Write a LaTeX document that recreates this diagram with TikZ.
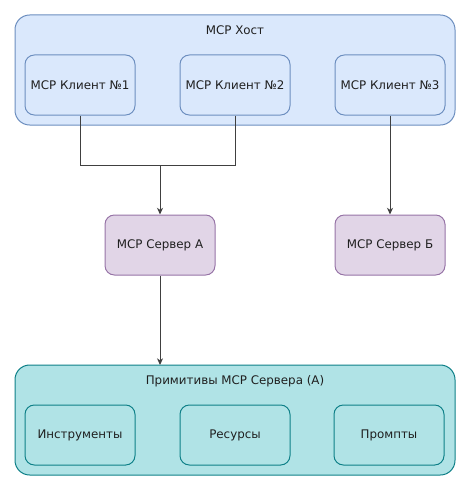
\documentclass[tikz,border=0pt]{standalone}
\usepackage{fontspec}
\setmainfont{DejaVu Sans}
\usetikzlibrary{arrows.meta}
\definecolor{hostfill}{HTML}{DAE8FC}
\definecolor{hostline}{HTML}{6C8EBF}
\definecolor{srvfill}{HTML}{E1D5E7}
\definecolor{srvline}{HTML}{9673A6}
\definecolor{primfill}{HTML}{B0E3E6}
\definecolor{primline}{HTML}{0E8088}
\begin{document}
\begin{tikzpicture}[x=0.75pt,y=-0.75pt,
  every node/.style={font=\fontsize{8.9pt}{10.5pt}\selectfont, text=black!88},
  bigbox/.style={draw, line width=0.75pt, rounded corners=11pt},
  smallbox/.style={draw, line width=0.75pt, rounded corners=7pt, minimum width=82.5pt, minimum height=45pt, inner sep=0pt},
  hoststyle/.style={fill=hostfill, draw=hostline},
  srvstyle/.style={fill=srvfill, draw=srvline},
  primstyle/.style={fill=primfill, draw=primline},
  conn/.style={draw=black!75, line width=0.75pt, -{Stealth[length=5pt,width=4.5pt,inset=1.5pt]}},
  seg/.style={draw=black!75, line width=0.75pt}]
\useasboundingbox (0,0) rectangle (472,492);
% host
\path[bigbox, hoststyle] (15,15) rectangle (455,125);
\node (hosttitle) at (235,30) {MCP Хост};
\node[smallbox, hoststyle] (c1) at (80,85) {MCP Клиент №1};
\node[smallbox, hoststyle] (c2) at (235,85) {MCP Клиент №2};
\node[smallbox, hoststyle] (c3) at (390,85) {MCP Клиент №3};
% servers
\node[smallbox, srvstyle] (sa) at (160,245) {MCP Сервер А};
\node[smallbox, srvstyle] (sb) at (390,245) {MCP Сервер Б};
% primitives
\path[bigbox, primstyle] (15,365) rectangle (455,475);
\coordinate (primtop) at (160,365);
\node (primtitle) at (235,381) {Примитивы MCP Сервера (А)};
\node[smallbox, primstyle] (p1) at (80,435) {Инструменты};
\node[smallbox, primstyle] (p2) at (235,435) {Ресурсы};
\node[smallbox, primstyle] (p3) at (389,435) {Промпты};
% connectors
\coordinate (j) at (160,165);
\draw[seg] (c1.south) |- (j);
\draw[seg] (c2.south) |- (j);
\draw[conn] (j) -- (sa.north);
\draw[conn] (c3.south) -- (sb.north);
\draw[conn] (sa.south) -- (primtop);
\end{tikzpicture}
\end{document}
